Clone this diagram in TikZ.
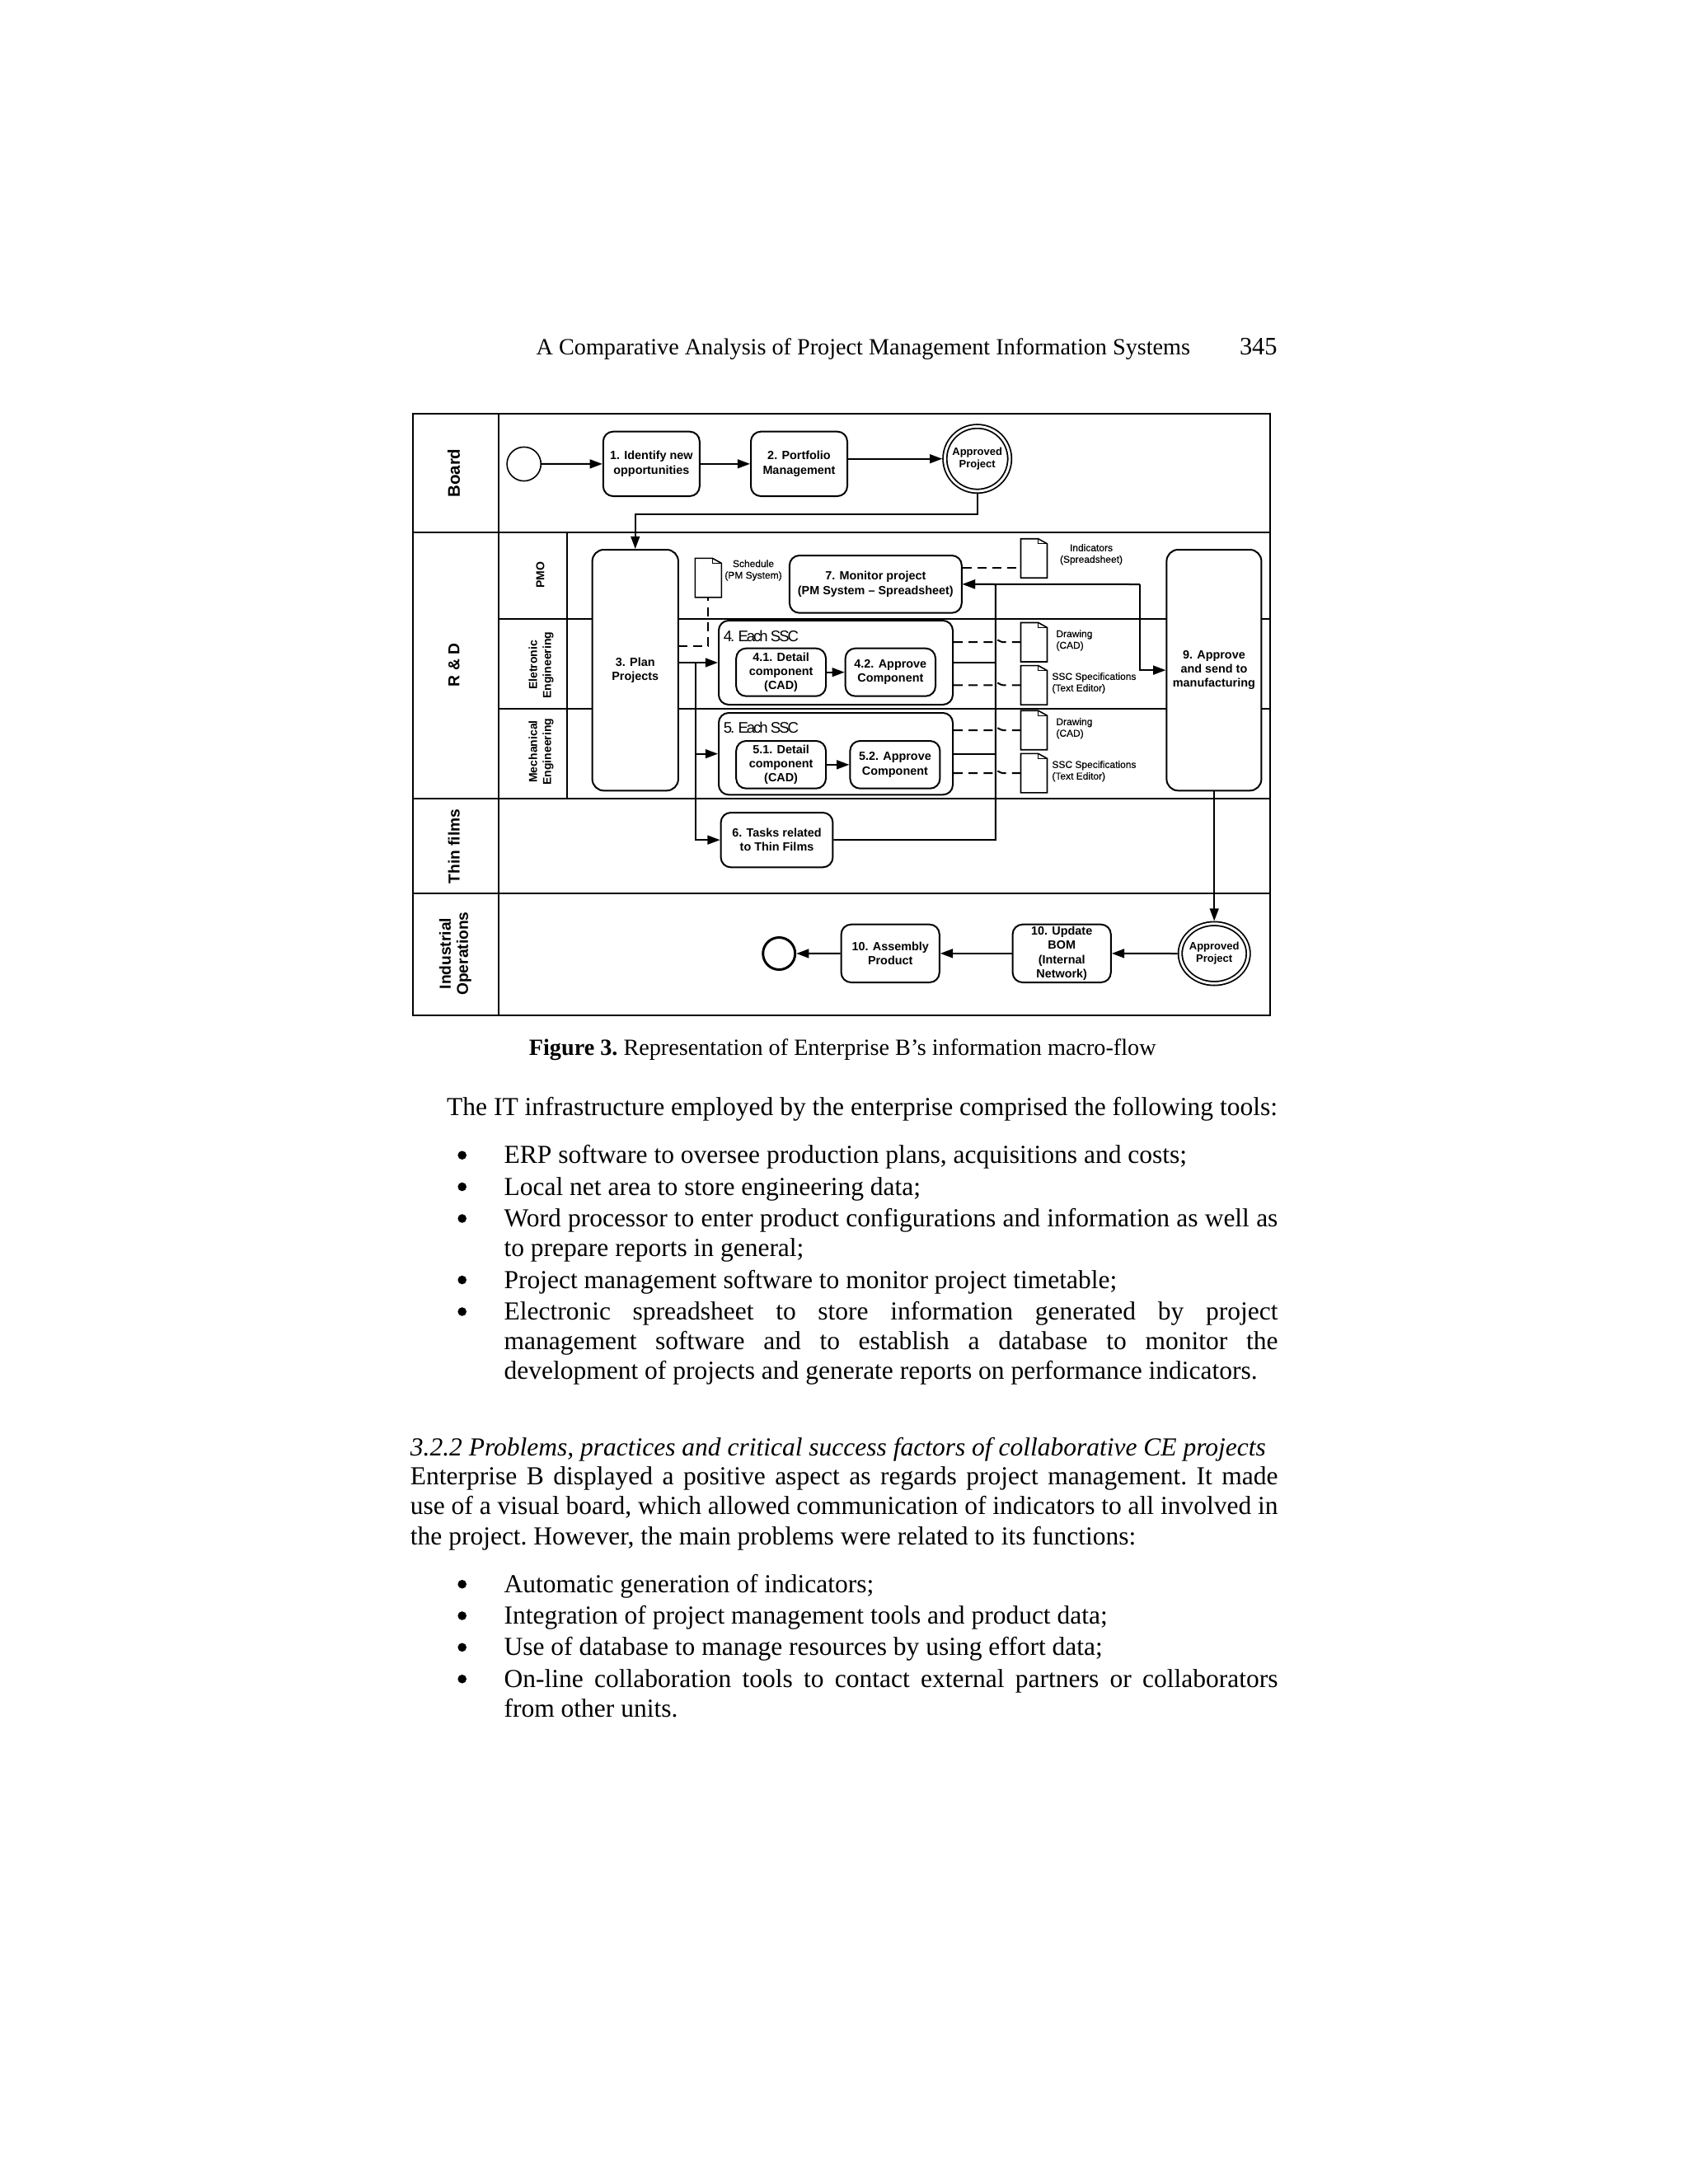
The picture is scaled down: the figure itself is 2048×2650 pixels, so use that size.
\documentclass[tikz,border=0pt]{standalone}
\usepackage{fontspec}
\setmainfont{Liberation Serif}
\setsansfont{Liberation Sans}
\newfontfamily\grpfont[LetterSpace=-11]{Liberation Sans}
\newfontfamily\docfont[FakeBold=0.3]{Liberation Sans}
\usetikzlibrary{arrows.meta,shapes.geometric}

\begin{document}
\begin{tikzpicture}[
  x=0.5pt, y=-0.5pt,
  lane/.style={line width=1pt},
  title/.style={rotate=90, inner sep=0pt, align=center, font=\fontsize{9.6}{10.5}\selectfont\sffamily\bfseries},
  sublane/.style={rotate=90, inner sep=0pt, align=center, font=\fontsize{7}{8.5}\selectfont\sffamily\bfseries},
  task/.style={draw, fill=white, line width=1pt, rounded corners=6pt, inner sep=0pt, align=center,
               font=\fontsize{7.2}{8.65}\selectfont\sffamily\bfseries},
  tall/.style={task, rounded corners=7pt, minimum height=146.15pt},
  grp/.style={draw, line width=1pt, rounded corners=6pt, inner sep=0pt, minimum width=142pt},
  grplbl/.style={anchor=west, inner sep=0pt, font=\fontsize{9.3}{11}\grpfont},
  evt/.style={draw, circle, inner sep=0pt, line width=0.8pt, minimum size=20.6pt},
  endevt/.style={evt, line width=1.5pt, minimum size=19.5pt},
  apprv/.style={draw, circle, inner sep=0pt, outer sep=1.6pt, line width=0.9pt, double, double distance=1.4pt, minimum size=39.3pt},
  apprvb/.style={apprv, ellipse, minimum width=41.3pt, minimum height=36.3pt},
  evtlbl/.style={inner sep=0pt, align=center, font=\fontsize{6.5}{7.5}\selectfont\sffamily\bfseries},
  doclbl/.style={inner sep=0pt, align=center, font=\fontsize{6}{7}\docfont},
  docl/.style={doclbl, align=left, anchor=west},
  docfile/.style={inner sep=0pt, outer sep=0pt, minimum width=16pt, minimum height=23.75pt,
    append after command={\pgfextra{
      \draw[line width=0.8pt] (\tikzlastnode.south west) -- (\tikzlastnode.north west)
        -- ([xshift=-5.4pt]\tikzlastnode.north east) -- ([yshift=-3pt]\tikzlastnode.north east)
        -- (\tikzlastnode.south east) -- cycle;
      \draw[line width=0.4pt] ([xshift=-5.4pt]\tikzlastnode.north east) |- ([yshift=-3pt]\tikzlastnode.north east);
    }}},
  arr/.style={-{Triangle[length=7.6pt,width=5.4pt]}, line width=1pt},
  flow/.style={line width=1pt},
  dsh/.style={line width=1pt, dash pattern=on 5.5pt off 3.6pt},
  pg/.style={anchor=base west, inner sep=0pt, font=\fontsize{15.75}{18.1}\selectfont,
             execute at begin node={\frenchspacing\hyphenpenalty=10000}},
  item/.style={pg, text width=469.4pt, align=justify},
  bul/.style={circle, fill=black, inner sep=0pt, minimum size=5.3pt}]
  \useasboundingbox (0,0) rectangle (2048,2650);

  \draw[lane] (500.7,501.7) rectangle (1541,1231.7);
  \draw[lane] (604.6,501.7) -- (604.6,1231.7);
  \draw[lane] (500.7,645.7) -- (1541,645.7);
  \draw[lane] (500.7,969.3) -- (1541,969.3);
  \draw[lane] (500.7,1084) -- (1541,1084);
  \draw[lane] (687.9,645.7) -- (687.9,969.3);
  \draw[lane] (604.6,750.7) -- (1541,750.7);
  \draw[lane] (604.6,859.7) -- (1541,859.7);

  \node[title, font=\fontsize{10.2}{11}\selectfont\sffamily\bfseries] (brd) at (550.7,574) {Board};
  \node[title] (rnd) at (550.7,807) {R \& D};
  \node[title] (thf) at (550.7,1027) {Thin films};
  \node[title] (ind) at (552.5,1157) {Industrial\\Operations};
  \node[sublane] (pmo) at (655.5,698) {PMO};
  \node[sublane] (ele) at (656.5,807) {Eletronic\\Engineering};
  \node[sublane] (mec) at (656.5,912) {Mechanical\\Engineering};

  \node[evt] (start) at (635.7,563) {};
  \node[task, minimum width=58.5pt, minimum height=39.15pt] (idn) at (790.35,562.85) {1. Identify new\\opportunities};
  \node[task, minimum width=58.5pt, minimum height=39.15pt] (ptf) at (969.5,562.85) {2. Portfolio\\Management};
  \node[apprv] (appt) at (1185.7,556.7) {};
  \node[evtlbl] (apptx) at (1185.7,556.7) {Approved\\Project};

  \node[tall, minimum width=52.15pt] (plan) at (770.75,813.15) {3. Plan\\Projects};
  \node[task, minimum width=104.45pt, minimum height=34.85pt] (mon) at (1062.35,708.85) {7. Monitor project\\(PM System -- Spreadsheet)};
  \node[tall, minimum width=57.5pt] (mfg) at (1472.9,813.15) {9. Approve\\and send to\\manufacturing};

  \node[grp, minimum height=51pt] (grp4) at (1014,804) {};
  \node[grplbl] (grp4l) at (877.5,771.7) {4. Each SSC};
  \node[task, minimum width=54.4pt, minimum height=29pt] (d41) at (947.6,815.7) {4.1. Detail\\component\\(CAD)};
  \node[task, minimum width=54.65pt, minimum height=29pt] (d42) at (1080.35,815.7) {4.2. Approve\\Component};
  \node[grp, minimum height=49.65pt] (grp5) at (1014,914.65) {};
  \node[grplbl] (grp5l) at (877.5,882.7) {5. Each SSC};
  \node[task, minimum width=54.4pt, minimum height=28.85pt] (d51) at (947.6,927.85) {5.1. Detail\\component\\(CAD)};
  \node[task, minimum width=54.5pt, minimum height=28.85pt] (d52) at (1085.9,927.85) {5.2. Approve\\Component};
  \node[task, minimum width=67.9pt, minimum height=33.15pt] (tsk6) at (942.5,1019.15) {6. Tasks related\\to Thin Films};

  \node[docfile] (sch) at (859.3,701.15) {};
  \node[docfile] (indc) at (1254.5,677.5) {};
  \node[docfile] (drw4) at (1254.5,779.2) {};
  \node[docfile] (spc4) at (1254.5,831.35) {};
  \node[docfile] (drw5) at (1254.5,886) {};
  \node[docfile] (spc5) at (1254.5,938.15) {};
  \node[doclbl] (schl) at (914,692) {Schedule\\(PM System)};
  \node[doclbl] (indl) at (1324,672.7) {Indicators\\(Spreadsheet)};
  \node[docl] (drw4l) at (1281,777) {Drawing\\(CAD)};
  \node[docl] (spc4l) at (1276,828.8) {SSC Specifications\\(Text Editor)};
  \node[docl] (drw5l) at (1281,883.7) {Drawing\\(CAD)};
  \node[docl] (spc5l) at (1276,935.7) {SSC Specifications\\(Text Editor)};

  \node[endevt] (stop) at (945.2,1157) {};
  \node[task, minimum width=59.6pt, minimum height=35.15pt] (asm) at (1080.2,1156.85) {10. Assembly\\Product};
  \node[task, minimum width=59.6pt, minimum height=35.15pt] (bom) at (1288.2,1156.85) {10. Update\\BOM\\(Internal\\Network)};
  \node[apprvb] (appb) at (1473.2,1157) {};
  \node[evtlbl] (appbx) at (1473.2,1157) {Approved\\Project};

  \coordinate (jn) at (1207.9,709);
  \coordinate (rt) at (1382.9,709);
  \coordinate (br) at (843.6,803.7);
  \coordinate (indin) at (1238.6,689);
  \coordinate (schy) at (822.9,784);

  \draw[arr] (start) -- (idn);
  \draw[arr] (idn) -- (ptf);
  \draw[arr] (ptf.east |- appt.west) -- (appt.west);
  \draw[arr] (appt.south) -- ++(0,25) -| (plan.north);
  \draw[arr] (plan.east |- grp4.west) -- (grp4.west);
  \draw[arr] (br) |- (grp5.west);
  \draw[arr] (br) |- (tsk6.west);
  \draw[arr] (d41) -- (d42);
  \draw[arr] (d51) -- (d52);
  \draw[flow] (grp4.east) -- (grp4.east -| jn);
  \draw[flow] (grp5.east) -- (grp5.east -| jn);
  \draw[arr] (tsk6.east) -| (jn) -- (mon.east);
  \draw[arr] (rt) -- (mon.east);
  \draw[arr] (rt) |- (mfg.west);
  \draw[arr] (mfg.south -| appb.north) -- (appb.north);
  \draw[arr] (appb.west) -- (bom.east);
  \draw[arr] (bom) -- (asm);
  \draw[arr] (asm) -- (stop);
  \draw[dsh] (schy) -| (sch.south);
  \draw[dsh] (mon.east |- indin) -- (indin);
  \draw[dsh] (grp4.east |- drw4.west) -- (jn |- drw4.west) .. controls +(1,-6) and +(-4,0) .. ++(9,0) -- (drw4.west);
  \draw[dsh] (grp4.east |- spc4.west) -- (jn |- spc4.west) .. controls +(1,-6) and +(-4,0) .. ++(9,0) -- (spc4.west);
  \draw[dsh] (grp5.east |- drw5.west) -- (jn |- drw5.west) .. controls +(1,-6) and +(-4,0) .. ++(9,0) -- (drw5.west);
  \draw[dsh] (grp5.east |- spc5.west) -- (jn |- spc5.west) .. controls +(1,-6) and +(-4,0) .. ++(9,0) -- (spc5.west);

  \node[pg, font=\fontsize{14.1}{16}\selectfont] (hdr) at (650.3,430) {A Comparative Analysis of Project Management Information Systems};
  \node[pg, font=\fontsize{15.2}{16}\selectfont] (num) at (1503.6,430) {345};
  \node[pg, font=\fontsize{14.1}{16}\selectfont] (cap) at (641.5,1280) {\textbf{Figure 3.} Representation of Enterprise B’s information macro-flow};
  \node[pg] (intro) at (541.8,1353.7) {The IT infrastructure employed by the enterprise comprised the following tools:};
  \node[bul] (b1) at (560.7,1401.7) {};
  \node[pg] (i1) at (611.2,1411.5) {ERP software to oversee production plans, acquisitions and costs;};
  \node[bul] (b2) at (560.7,1440) {};
  \node[pg] (i2) at (611.2,1450) {Local net area to store engineering data;};
  \node[bul] (b3) at (560.7,1478.5) {};
  \node[item] (i3) at (611.2,1488.5) {Word processor to enter product configurations and information as well as\linebreak to prepare reports in general;};
  \node[bul] (b4) at (560.7,1553) {};
  \node[pg] (i4) at (611.2,1563) {Project management software to monitor project timetable;};
  \node[bul] (b5) at (560.7,1591.5) {};
  \node[item] (i5) at (611.2,1601.5) {Electronic spreadsheet to store information generated by project\linebreak management software and to establish a database to monitor the\linebreak development of projects and generate reports on performance indicators.};
  \node[pg, font=\fontsize{15.75}{18.1}\selectfont\itshape] (sec) at (497.5,1766) {3.2.2 Problems, practices and critical success factors of collaborative CE projects};
  \node[item, text width=526.3pt] (body) at (497.5,1801.7) {Enterprise B displayed a positive aspect as regards project management. It made\linebreak use of a visual board, which allowed communication of indicators to all involved in\linebreak the project. However, the main problems were related to its functions:};
  \node[bul] (c1) at (560.7,1922.2) {};
  \node[pg] (j1) at (611.2,1932.2) {Automatic generation of indicators;};
  \node[bul] (c2) at (560.7,1960.5) {};
  \node[pg] (j2) at (611.2,1970.5) {Integration of project management tools and product data;};
  \node[bul] (c3) at (560.7,1998.8) {};
  \node[pg] (j3) at (611.2,2008.8) {Use of database to manage resources by using effort data;};
  \node[bul] (c4) at (560.7,2037.2) {};
  \node[item] (j4) at (611.2,2047.2) {On-line collaboration tools to contact external partners or collaborators\linebreak from other units.};
\end{tikzpicture}
\end{document}
